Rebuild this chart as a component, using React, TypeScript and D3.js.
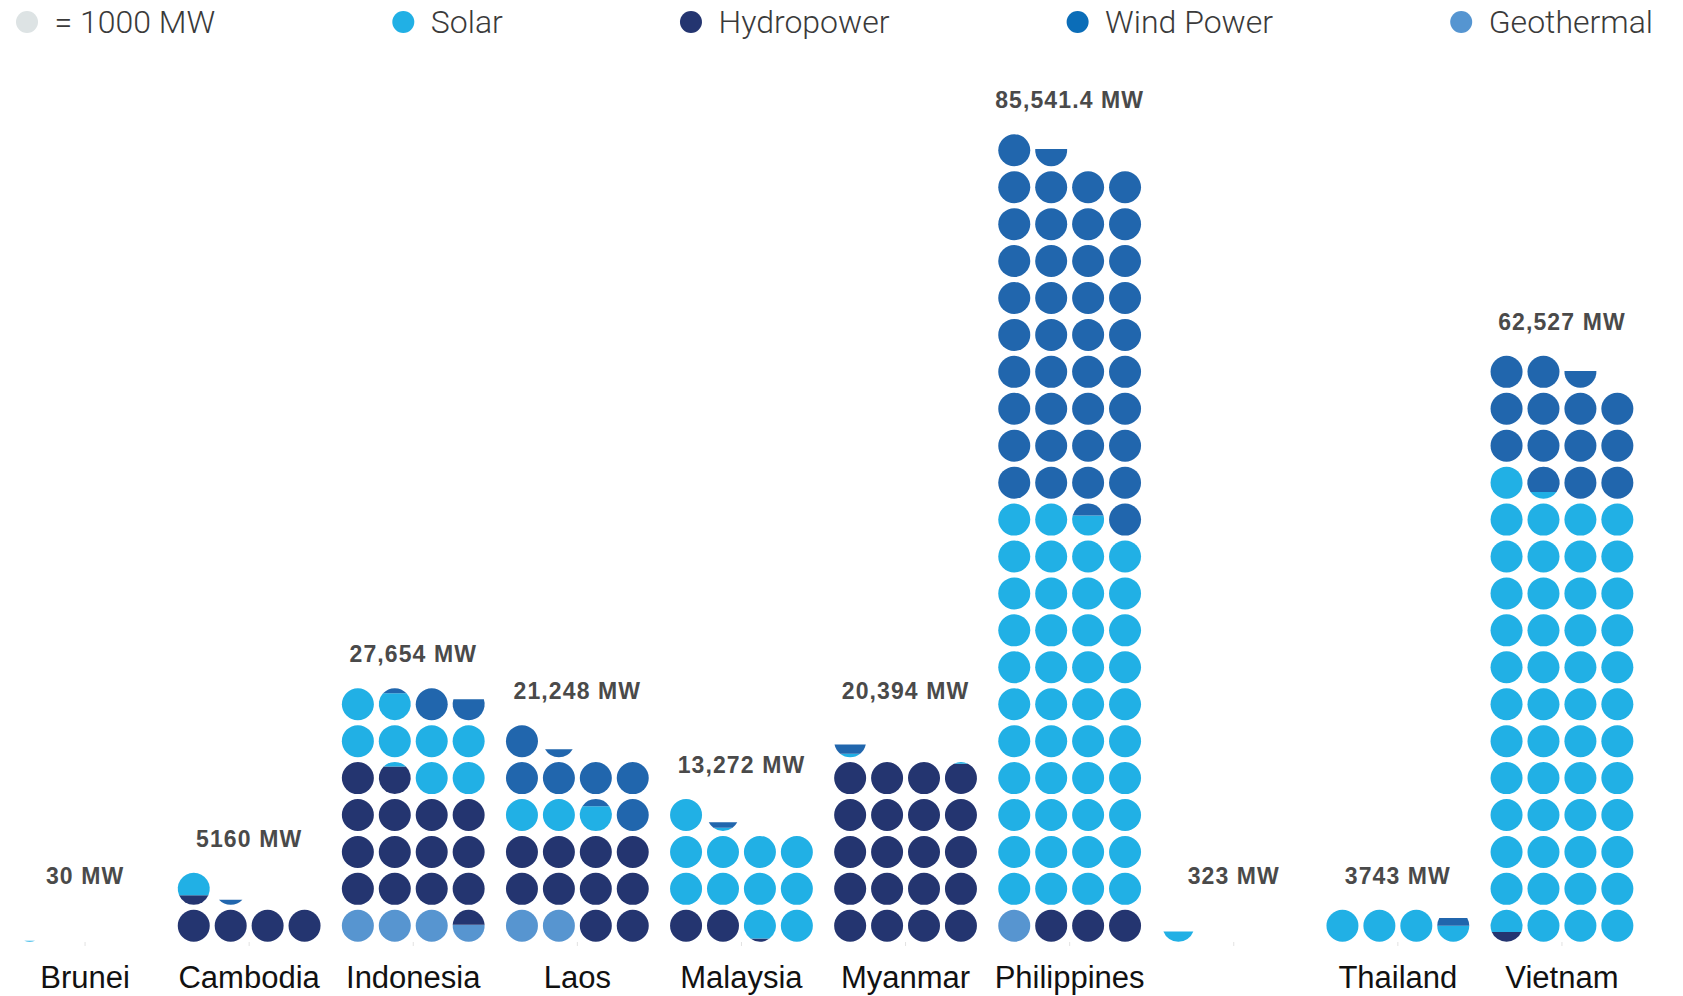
import React, { useEffect, useRef } from "react";
import * as d3 from "d3";

const WIDTH = 1683;
const HEIGHT = 996;

// Countries in display order; the Singapore column carries no name underneath.
const countries = [
  "Brunei",
  "Cambodia",
  "Indonesia",
  "Laos",
  "Malaysia",
  "Myanmar",
  "Philippines",
  "Singapore",
  "Thailand",
  "Vietnam",
];
const countryLabels = [
  "Brunei",
  "Cambodia",
  "Indonesia",
  "Laos",
  "Malaysia",
  "Myanmar",
  "Philippines",
  "",
  "Thailand",
  "Vietnam",
];
const totalLabels = [
  "30 MW",
  "5160 MW",
  "27,654 MW",
  "21,248 MW",
  "13,272 MW",
  "20,394 MW",
  "85,541.4 MW",
  "323 MW",
  "3743 MW",
  "62,527 MW",
];

// Installed capacity by source, MW
const geothermal = [0, 0, 3530, 2000, 0, 0, 1000, 0, 0, 0];
const hydropower = [0, 4300, 14330, 10000, 2100, 19950, 3000, 0, 0, 310];
const solar = [30, 700, 7980, 2770, 11000, 160, 42630, 323, 3500, 48900];
const wind = [0, 160, 1814, 6478, 172, 284, 38911.4, 0, 243, 13317];

// Stacking order inside each waffle, bottom to top
const sources = ["Geothermal", "Hydropower", "Solar", "Wind Power"];
const sourceValues = [geothermal, hydropower, solar, wind];
const dotColors = ["#5795d0", "#243570", "#21b0e5", "#2166ad"];

// Legend entries, left to right
const legendLabels = ["= 1000 MW", "Solar", "Hydropower", "Wind Power", "Geothermal"];
const legendColors = ["#dde3e4", "#21b0e5", "#243570", "#0b6db8", "#5595d1"];

const UNIT = 1000; // MW per dot
const COLS = 4;

// Region of a circle lying between two heights, given as fractions of the
// diameter measured from the bottom of the circle.
function bandPath(cx: number, cy: number, r: number, f0: number, f1: number) {
  const yB = cy + r - f0 * 2 * r;
  const yT = cy + r - f1 * 2 * r;
  const wB = Math.sqrt(Math.max(0, r * r - (yB - cy) ** 2));
  const wT = Math.sqrt(Math.max(0, r * r - (yT - cy) ** 2));
  return (
    `M${cx - wT},${yT}L${cx + wT},${yT}` +
    `A${r},${r} 0 0 1 ${cx + wB},${yB}` +
    `L${cx - wB},${yB}` +
    `A${r},${r} 0 0 1 ${cx - wT},${yT}Z`
  );
}

export default function App() {
  const ref = useRef<SVGSVGElement | null>(null);

  useEffect(() => {
    const svg = d3.select(ref.current);
    svg.selectAll("*").remove();

    const cell = 36.93;
    const r = 16;
    const baseY = 925.8;

    const x = d3
      .scaleBand<number>()
      .domain(d3.range(countries.length))
      .range([3, 1644]);
    const colOffset = d3
      .scaleLinear()
      .domain([0, COLS - 1])
      .range([-1.5 * cell, 1.5 * cell]);
    const rowY = d3.scaleLinear().domain([0, 1]).range([baseY, baseY - cell]);
    const color = d3.scaleOrdinal<string, string>().domain(sources).range(dotColors);

    const chart = svg.append("g");

    countries.forEach((_, ci) => {
      const cx0 = (x(ci) as number) + x.bandwidth() / 2;
      // cumulative extents of each source in dot units
      const stack: { key: string; a: number; b: number }[] = [];
      let acc = 0;
      sources.forEach((s, si) => {
        const v = sourceValues[si][ci] / UNIT;
        if (v > 0) stack.push({ key: s, a: acc, b: acc + v });
        acc += v;
      });
      const total = acc;
      const nDots = Math.ceil(total - 1e-9);
      const g = chart.append("g");

      for (let k = 0; k < nDots; k++) {
        const cx = cx0 + colOffset(k % COLS);
        const cy = rowY(Math.floor(k / COLS));
        stack.forEach((seg) => {
          const f0 = Math.max(seg.a, k) - k;
          const f1 = Math.min(seg.b, k + 1) - k;
          if (f1 - f0 <= 1e-6) return;
          if (f0 <= 1e-9 && f1 >= 1 - 1e-9) {
            g.append("circle")
              .attr("cx", cx)
              .attr("cy", cy)
              .attr("r", r)
              .attr("fill", color(seg.key));
          } else {
            g.append("path")
              .attr("d", bandPath(cx, cy, r, f0, f1))
              .attr("fill", color(seg.key));
          }
        });
      }

      const topRow = Math.floor((nDots - 1) / COLS);
      chart
        .append("text")
        .attr("x", cx0)
        .attr("y", rowY(topRow) - 42)
        .attr("text-anchor", "middle")
        .attr("font-family", "'Liberation Sans', Arial, sans-serif")
        .attr("font-weight", 700)
        .attr("font-size", 23)
        .attr("letter-spacing", 1.1)
        .attr("fill", "#4a4a4a")
        .text(totalLabels[ci]);

      // faint category tick
      chart
        .append("line")
        .attr("x1", cx0)
        .attr("x2", cx0)
        .attr("y1", 942)
        .attr("y2", 946)
        .attr("stroke", "#e2e2e2")
        .attr("stroke-width", 1);

      if (countryLabels[ci]) {
        chart
          .append("text")
          .attr("x", cx0)
          .attr("y", 988)
          .attr("text-anchor", "middle")
          .attr("font-family", "'Liberation Sans', Arial, sans-serif")
          .attr("font-size", 31)
          .attr("fill", "#111")
          .text(countryLabels[ci]);
      }
    });

    // Legend spread across the full width with equal gaps between entries
    const legend = svg.append("g");
    const dotR = 11;
    const textGap = 27.5;
    const left = 16;
    const right = 1653;
    const items = legendLabels.map((label, i) => {
      const item = legend.append("g");
      item
        .append("circle")
        .attr("cx", dotR)
        .attr("cy", 22)
        .attr("r", dotR)
        .attr("fill", legendColors[i]);
      const t = item
        .append("text")
        .attr("x", dotR + textGap)
        .attr("y", 33)
        .attr("font-family", "Roboto, 'Liberation Sans', Arial, sans-serif")
        .attr("font-weight", 300)
        .attr("font-size", 32)
        .attr("fill", "#3a3a3a")
        .text(label);
      const tw = (t.node() as SVGTextElement).getComputedTextLength();
      return { item, w: dotR + textGap + tw };
    });
    const sumW = d3.sum(items, (d) => d.w);
    const gap = (right - left - sumW) / (items.length - 1);
    let pos = left;
    items.forEach((d) => {
      d.item.attr("transform", `translate(${pos},0)`);
      pos += d.w + gap;
    });
  }, []);

  return (
    <svg
      ref={ref}
      width={WIDTH}
      height={HEIGHT}
      style={{ position: "absolute", left: 0, top: 0, background: "#fff" }}
    />
  );
}
